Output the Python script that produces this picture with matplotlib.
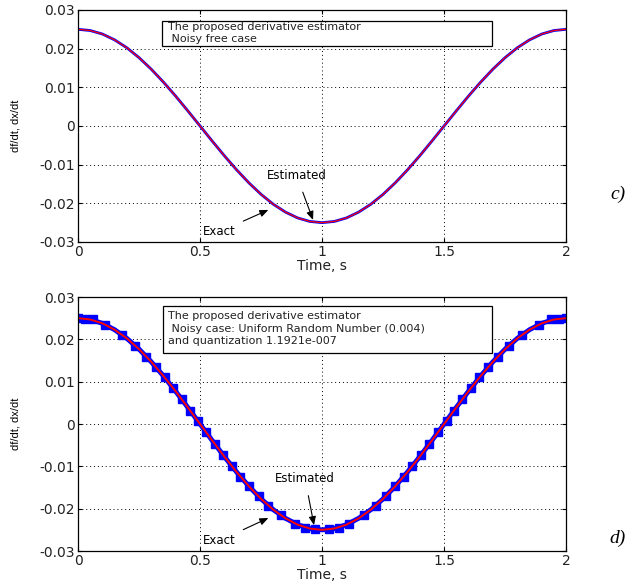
import matplotlib.pyplot as plt
from matplotlib.patches import Rectangle

# exact derivative, every 0.05 s
t_exact = [0.00, 0.05, 0.10, 0.15, 0.20, 0.25, 0.30, 0.35, 0.40, 0.45,
           0.50, 0.55, 0.60, 0.65, 0.70, 0.75, 0.80, 0.85, 0.90, 0.95,
           1.00, 1.05, 1.10, 1.15, 1.20, 1.25, 1.30, 1.35, 1.40, 1.45,
           1.50, 1.55, 1.60, 1.65, 1.70, 1.75, 1.80, 1.85, 1.90, 1.95, 2.00]
y_exact = [0.02500, 0.02469, 0.02378, 0.02227, 0.02023, 0.01768, 0.01469, 0.01135, 0.00773, 0.00391,
           0.00000, -0.00391, -0.00773, -0.01135, -0.01469, -0.01768, -0.02023, -0.02227, -0.02378, -0.02469,
           -0.02500, -0.02469, -0.02378, -0.02227, -0.02023, -0.01768, -0.01469, -0.01135, -0.00773, -0.00391,
           0.00000, 0.00391, 0.00773, 0.01135, 0.01469, 0.01768, 0.02023, 0.02227, 0.02378, 0.02469, 0.02500]

# noisy estimate: the blue blocks along the curve (panel d)
t_blob = [0.00, 0.03, 0.06, 0.11, 0.18, 0.235, 0.28, 0.32, 0.355, 0.39, 0.425, 0.46, 0.49,
          0.525, 0.56, 0.595, 0.63, 0.665, 0.70, 0.74, 0.78, 0.83, 0.89, 0.93, 0.97,
          1.03, 1.07, 1.11, 1.17, 1.22, 1.26, 1.30, 1.335, 1.37, 1.405, 1.44, 1.475, 1.51,
          1.54, 1.575, 1.61, 1.645, 1.68, 1.72, 1.765, 1.82, 1.89, 1.94, 1.97, 2.00]
y_blob = [0.0250, 0.0249, 0.0247, 0.0235, 0.0211, 0.0185, 0.0159, 0.0134, 0.0110, 0.0085, 0.0058, 0.0031, 0.0008,
          -0.0020, -0.0047, -0.0074, -0.0099, -0.0124, -0.0147, -0.0171, -0.0193, -0.0215, -0.0235, -0.0245, -0.0249,
          -0.0249, -0.0245, -0.0235, -0.0215, -0.0193, -0.0171, -0.0147, -0.0124, -0.0099, -0.0074, -0.0047, -0.0020, 0.0008,
          0.0031, 0.0058, 0.0085, 0.0110, 0.0134, 0.0159, 0.0185, 0.0211, 0.0235, 0.0247, 0.0249, 0.0250]

x_ticks = [0, 0.5, 1, 1.5, 2]
x_labels = ["0", "0.5", "1", "1.5", "2"]
y_ticks = [-0.03, -0.02, -0.01, 0, 0.01, 0.02, 0.03]
y_labels = ["-0.03", "-0.02", "-0.01", "0", "0.01", "0.02", "0.03"]

plt.rcParams['font.family'] = ['DejaVu Sans']

fig = plt.figure(figsize=(6.38, 5.81), dpi=100)
ax1 = fig.add_axes([0.1223, 0.5835, 0.765, 0.3993])
ax2 = fig.add_axes([0.1223, 0.0516, 0.765, 0.4372])


def style_axes(ax):
    ax.set_xlim(0, 2)
    ax.set_ylim(-0.03, 0.03)
    ax.set_xticks(x_ticks)
    ax.set_xticklabels(x_labels)
    ax.set_yticks(y_ticks)
    ax.set_yticklabels(y_labels)
    ax.tick_params(direction='in', top=True, right=True, labelsize=10, length=3, pad=2,
                   labelcolor='#222222')
    ax.grid(True, linestyle=(0, (1, 3)), color='black', linewidth=0.7)
    for s in ax.spines.values():
        s.set_linewidth(0.9)
    ax.set_xlabel("Time, s", fontsize=10, labelpad=0, color='#222222')
    ax.set_ylabel("df/dt, dx/dt", fontsize=8, family='Liberation Sans')
    ax.yaxis.set_label_coords(-0.118, 0.5)


def text_box(ax, x0, y0, x1, y1, lines, x_text, y_lines):
    ax.add_patch(Rectangle((x0, y0), x1 - x0, y1 - y0, transform=ax.transAxes,
                           facecolor='white', edgecolor='black', linewidth=0.9, zorder=5))
    for line, yy in zip(lines, y_lines):
        ax.text(x_text, yy, line, transform=ax.transAxes, fontsize=8, va='center', ha='left',
                color='#222222', zorder=6)


# c) noise free
ax1.plot(t_exact, y_exact, color='blue', linewidth=2.0)
ax1.plot(t_exact, y_exact, color='red', linewidth=0.9)
style_axes(ax1)
text_box(ax1, 0.172, 0.845, 0.848, 0.953,
         ["The proposed derivative estimator", " Noisy free case"], 0.184, [0.925, 0.874])
ax1.annotate("Estimated", xy=(0.963, -0.0243), xytext=(0.895, -0.0127), fontsize=8.5,
             ha='center', va='center',
             arrowprops=dict(arrowstyle='-|>,head_length=0.6,head_width=0.25', color='black', lw=0.8,
                             shrinkA=6, shrinkB=0))
ax1.annotate("Exact", xy=(0.78, -0.0217), xytext=(0.578, -0.0274), fontsize=8.5,
             ha='center', va='center',
             arrowprops=dict(arrowstyle='-|>,head_length=0.6,head_width=0.25', color='black', lw=0.8,
                             shrinkA=4, shrinkB=0))

# d) noisy case
ax2.plot(t_exact, y_exact, color='blue', linewidth=3.5, solid_capstyle='butt')
ax2.plot(t_blob, y_blob, linestyle='none', marker='s', markersize=6, color='blue')
ax2.plot(t_exact, y_exact, color='red', linewidth=1.4)
style_axes(ax2)
text_box(ax2, 0.174, 0.78, 0.848, 0.965,
         ["The proposed derivative estimator", " Noisy case: Uniform Random Number (0.004)",
          "and quantization 1.1921e-007"], 0.184, [0.925, 0.876, 0.827])
ax2.annotate("Estimated", xy=(0.967, -0.0239), xytext=(0.93, -0.0128), fontsize=8.5,
             ha='center', va='center',
             arrowprops=dict(arrowstyle='-|>,head_length=0.6,head_width=0.25', color='black', lw=0.8,
                             shrinkA=6, shrinkB=0))
ax2.annotate("Exact", xy=(0.78, -0.0222), xytext=(0.578, -0.0276), fontsize=8.5,
             ha='center', va='center',
             arrowprops=dict(arrowstyle='-|>,head_length=0.6,head_width=0.25', color='black', lw=0.8,
                             shrinkA=4, shrinkB=0))

fig.text(0.968, 0.665, "c)", fontsize=14, style='italic', family='Liberation Serif', ha='center', va='center')
fig.text(0.968, 0.074, "d)", fontsize=14, style='italic', family='Liberation Serif', ha='center', va='center')

fig.savefig("out.png", dpi=100)
